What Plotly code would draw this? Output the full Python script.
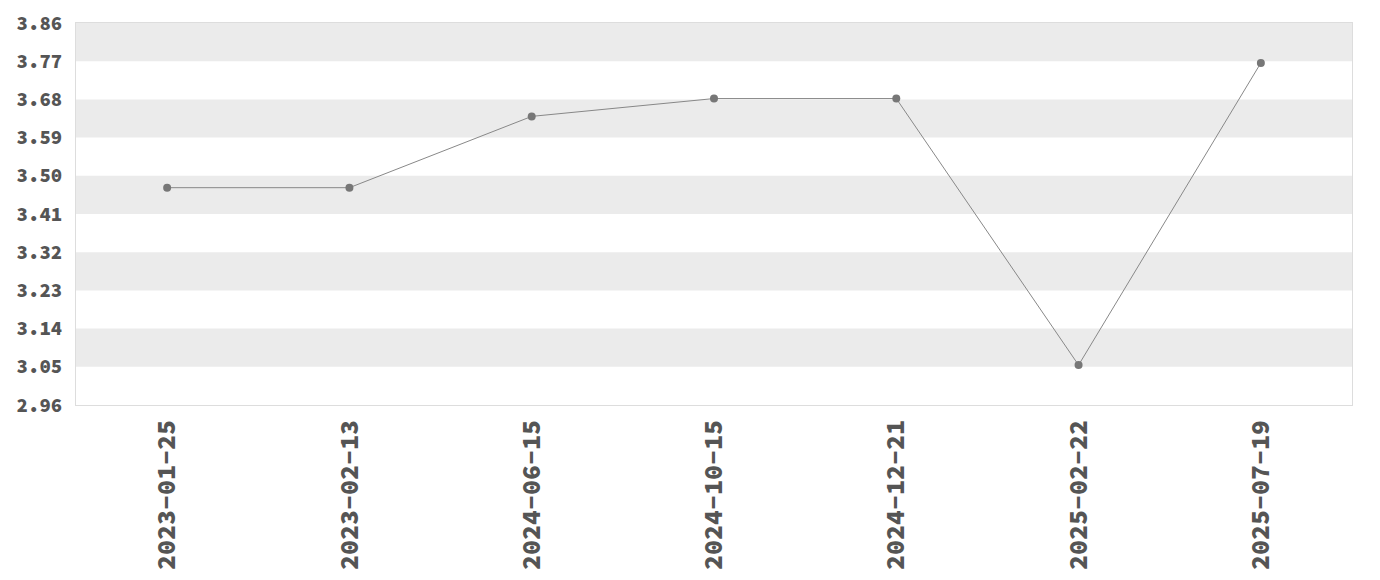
import plotly.graph_objects as go

# Datos
fechas = ['2023-01-25', '2023-02-13', '2024-06-15', '2024-10-15',
          '2024-12-21', '2025-02-22', '2025-07-19']
valores = [3.472, 3.472, 3.640, 3.682, 3.682, 3.054, 3.766]

# Marcas del eje y
ticks_y = [2.96, 3.05, 3.14, 3.23, 3.32, 3.41, 3.50, 3.59, 3.68, 3.77, 3.86]
etiquetas_y = ['%.2f' % v for v in ticks_y]

fuente = 'Source Code Pro'

traza = go.Scatter(
    x=fechas,
    y=valores,
    mode='lines+markers',
    line=dict(color='#888888', width=1),
    marker=dict(color='#777777', size=8, symbol='circle'),
    showlegend=False
)

fig = go.Figure(data=[traza])

# Bandas alternas grises (desde arriba)
bandas = []
for i in range(len(ticks_y) - 1, 0, -2):
    bandas.append(dict(
        type='rect', xref='paper', yref='y',
        x0=0, x1=1, y0=ticks_y[i - 1], y1=ticks_y[i],
        fillcolor='#ebebeb', line=dict(width=0), layer='below'
    ))

fig.update_layout(
    width=1380,
    height=580,
    margin=dict(l=68, r=36, t=15, b=183),
    paper_bgcolor='white',
    plot_bgcolor='white',
    font=dict(family=fuente, color='#555555'),
    shapes=bandas
)

fig.update_xaxes(
    type='category',
    range=[-0.5, len(fechas) - 0.5],
    tickangle=-90,
    tickfont=dict(family=fuente, size=25, color='#555555', weight=900),
    showgrid=False, zeroline=False, automargin=False,
    showline=True, linecolor='#dddddd', linewidth=1, mirror=True,
    ticks='outside', ticklen=4, tickcolor='rgba(0,0,0,0)'
)

fig.update_yaxes(
    range=[ticks_y[0], ticks_y[-1]],
    tickvals=ticks_y,
    ticktext=etiquetas_y,
    tickfont=dict(family=fuente, size=19, color='#555555', weight=900),
    showgrid=False, zeroline=False, automargin=False,
    showline=True, linecolor='#dddddd', linewidth=1, mirror=True,
    ticks='outside', ticklen=9, tickcolor='rgba(0,0,0,0)'
)

fig.write_html('out.html')
